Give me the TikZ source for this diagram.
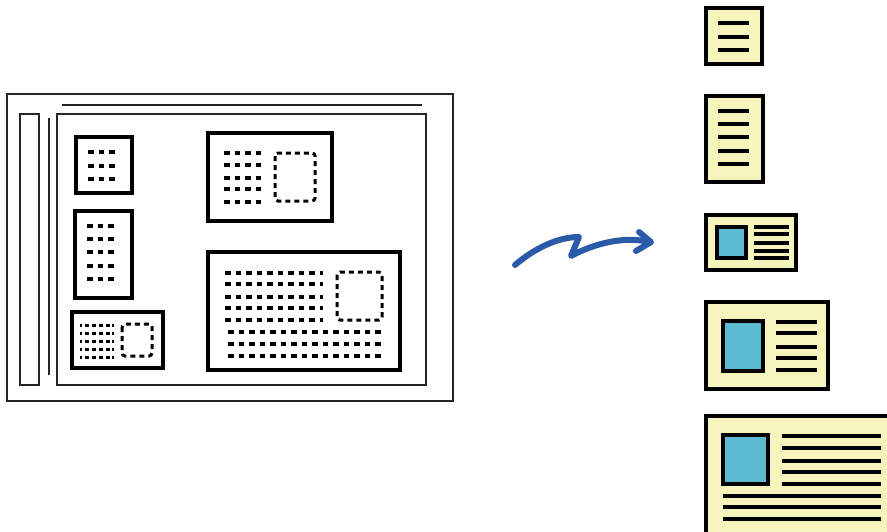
\documentclass[tikz,border=0pt]{standalone}
\begin{document}
\begin{tikzpicture}[x=1pt,y=-1pt,
  frame/.style={draw=black!85,line width=1.3pt},
  boxc/.style={draw=black,line width=3.6pt},
  txt/.style={line width=3.3pt,dash pattern=on 5.8pt off 4.7pt},
  txts/.style={line width=3pt,dash pattern=on 2pt off 3pt on 4pt off 3pt on 4pt off 3pt on 4pt off 3pt on 4pt},
  pic/.style={line width=3pt,dash pattern=on 5pt off 4pt,rounded corners=3pt},
  icon/.style={draw=black,line width=3.4pt,fill=iconyellow},
  photo/.style={draw=black,line width=3.4pt,fill=photoblue},
  iline/.style={line width=3.3pt},
  arr/.style={draw=arrowblue,line width=6pt,line cap=round,line join=round}]
\definecolor{iconyellow}{HTML}{F5F5BC}
\definecolor{photoblue}{HTML}{5BBAD0}
\definecolor{arrowblue}{HTML}{2A5AA8}
\useasboundingbox (0,0) rectangle (887,531);
\clip (0,0) rectangle (887,531);
% scanner glass frame
\draw[frame] (7,94) rectangle (453,401);
\draw[frame] (62,105) -- (422,105);
\draw[frame] (20,114) rectangle (39,385);
\draw[frame] (49,118) -- (49,375);
\draw[frame] (57,114) rectangle (426,385);
% box 1
\draw[boxc] (76,137) rectangle (132,193);
\foreach \y in {152,166,179} \draw[txt] (88,\y) -- (115,\y);
% box 2
\draw[boxc] (75,211) rectangle (132,298);
\foreach \y in {226,239,252,266,279} \draw[txt] (87,\y) -- (114,\y);
% box 3
\draw[boxc] (72,312) rectangle (163,368);
\foreach \y in {325,333,341,349,357} \draw[txts] (80,\y) -- (114,\y);
\draw[pic] (122,324) rectangle (152,356);
% box 4
\draw[boxc] (208,133) rectangle (332,221);
\foreach \y in {153,165,178,189,202} \draw[txt] (224,\y) -- (262,\y);
\draw[pic] (275,153) rectangle (315,201);
% box 5
\draw[boxc] (208,252) rectangle (400,370);
\foreach \y in {273,284,297,308,320} \draw[txt] (225,\y) -- (323,\y);
\draw[pic] (337,272) rectangle (382,320);
\foreach \y in {332,344,356} \draw[txt] (228,\y) -- (382,\y);
% arrow
\draw[arr] (515,265) .. controls (535,248) and (558,237) .. (579,237) -- (571,256) .. controls (595,243) and (625,236) .. (649,242);
\draw[arr] (639,232) -- (651,242) -- (636,251);
% icon 1
\draw[icon] (706,8) rectangle (762,64);
\foreach \y in {23,37,50} \draw[iline] (718,\y) -- (749,\y);
% icon 2
\draw[icon] (706,96) rectangle (763,182);
\foreach \y in {111,124,137,151,164} \draw[iline] (718,\y) -- (749,\y);
% icon 3
\draw[icon] (706,215) rectangle (796,270);
\draw[photo] (717,227) rectangle (746,258);
\foreach \y in {227,234,243,251,258} \draw[iline] (754,\y) -- (789,\y);
% icon 4
\draw[icon] (706,302) rectangle (828,389);
\draw[photo] (723,321) rectangle (763,371);
\foreach \y in {322,333,347,358,370} \draw[iline] (776,\y) -- (817,\y);
% icon 5
\draw[icon] (706,416) rectangle (900,545);
\draw[photo] (723,435) rectangle (768,484);
\foreach \y in {436,448,461,472,484} \draw[iline] (782,\y) -- (881,\y);
\foreach \y in {496,507,519} \draw[iline] (723,\y) -- (881,\y);
\end{tikzpicture}
\end{document}
